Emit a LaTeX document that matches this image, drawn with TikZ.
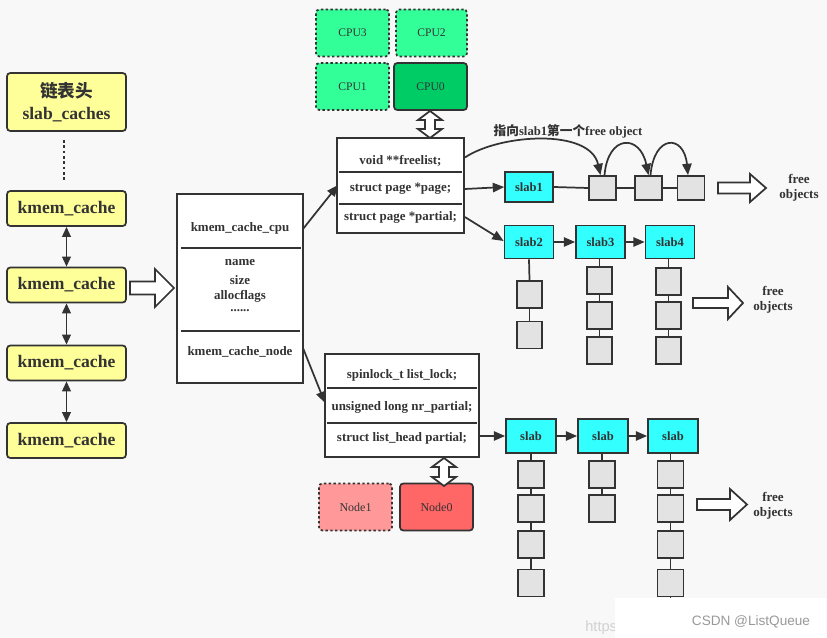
\documentclass[tikz,border=0pt]{standalone}
\usepackage{fontspec}
\setmainfont{Liberation Serif}
\newfontfamily\cjk{Noto Sans CJK SC}
\newfontfamily\wmfont{Liberation Sans}
\usetikzlibrary{arrows.meta,calc}
\definecolor{bg}{HTML}{F8F8F8}
\definecolor{ln}{HTML}{333333}
\definecolor{txt}{HTML}{333333}
\definecolor{yel}{HTML}{FFFF99}
\definecolor{cpul}{HTML}{33FF99}
\definecolor{cpud}{HTML}{00CC66}
\definecolor{cyn}{HTML}{33FFFF}
\definecolor{sqf}{HTML}{E3E3E3}
\definecolor{nodel}{HTML}{FF9999}
\definecolor{noded}{HTML}{FF6666}
\newcommand\harrowR[6]{\draw[harr] (#1,#2-#4) -- (#5,#2-#4) -- (#5,#2-#6) -- (#3,#2) -- (#5,#2+#6) -- (#5,#2+#4) -- (#1,#2+#4) -- cycle;}
\newcommand\hdarrowV[6]{\draw[harr] (#1,#2) -- (#1+#5,#2+#6) -- (#1+#4,#2+#6) -- (#1+#4,#3-#6) -- (#1+#5,#3-#6) -- (#1,#3) -- (#1-#5,#3-#6) -- (#1-#4,#3-#6) -- (#1-#4,#2+#6) -- (#1-#5,#2+#6) -- cycle;}
\begin{document}
\begin{tikzpicture}[x=0.75pt,y=-0.75pt,
  sz/.style 2 args={minimum width=#1*0.75pt, minimum height=#2*0.75pt},
  base/.style={draw=ln, line width=1.3pt, inner sep=0pt, text=txt},
  ybox/.style={base, fill=yel, rounded corners=2.5pt, sz={119}{35}, font=\bfseries\fontsize{13.2}{16.5}\selectfont},
  cpub/.style={base, rounded corners=2.5pt, sz={73}{47}, font=\fontsize{8.7}{10}\selectfont},
  dotb/.style={dash pattern=on 1.8pt off 1.8pt},
  rect/.style={base, fill=white},
  lbl/.style={inner sep=0pt, text=txt, font=\bfseries\fontsize{9.7}{12}\selectfont},
  slab/.style={base, fill=cyn, sz={49}{33}, font=\bfseries\fontsize{9.4}{11}\selectfont},
  sq/.style={base, fill=sqf, sz={26}{27}},
  divl/.style={draw=ln, line width=1.3pt},
  plain/.style={draw=ln, line width=1.3pt},
  conn/.style={draw=ln, line width=1.3pt, -{Triangle[length=8.5pt,width=7pt]}},
  dconn/.style={draw=ln, line width=1.3pt, {Triangle[length=7.5pt,width=6.5pt]}-{Triangle[length=7.5pt,width=6.5pt]}},
  harr/.style={draw=ln, fill=white, line width=1.3pt, line join=miter},
  fo/.style={inner sep=0pt, text=txt, align=center, font=\bfseries\fontsize{9.8}{11.5}\selectfont}
]
\fill[bg] (0,0) rectangle (827,638);
\useasboundingbox (0,0) rectangle (827,638);

% left column
\node[ybox, sz={119}{58}, align=center] (head) at (66.5,102) {{\cjk\bfseries 链表头}\\slab\_caches};
\node[ybox] (k1) at (66.5,208.5) {kmem\_cache};
\node[ybox] (k2) at (66.5,285) {kmem\_cache};
\node[ybox] (k3) at (66.5,363) {kmem\_cache};
\node[ybox] (k4) at (66.5,440.5) {kmem\_cache};
\coordinate (dtop) at (64,140);
\coordinate (dbot) at (64,182);
\draw[draw=ln, line width=2pt, dash pattern=on 2pt off 2pt] (dtop) -- (dbot);
\draw[dconn] (k1.south) -- (k2.north);
\draw[dconn] (k2.south) -- (k3.north);
\draw[dconn] (k3.south) -- (k4.north);
\harrowR{130}{288}{174}{6.5}{155}{19}

% middle kmem_cache box
\node[rect, sz={126}{189}] (M) at (240,288.5) {};
\draw[divl] (181,248) -- (301,248);
\draw[divl] (181,331) -- (300,331);
\node[lbl] (mcpu) at (240,228) {kmem\_cache\_cpu};
\node[lbl] (mname) at (240,263) {name};
\node[lbl] (msize) at (240,280) {size};
\node[lbl] (mflags) at (240,296) {allocflags};
\node[lbl] (mdots) at (240,311) {......};
\node[lbl] (mnode) at (240,352) {kmem\_cache\_node};

% CPUs
\node[cpub, fill=cpul, dotb] (cpu3) at (352.5,33) {CPU3};
\node[cpub, fill=cpul, dotb, sz={71}{47}] (cpu2) at (431.5,33) {CPU2};
\node[cpub, fill=cpul, dotb] (cpu1) at (352.5,86.5) {CPU1};
\node[cpub, fill=cpud] (cpu0) at (430.5,86.5) {CPU0};

% kmem_cache_cpu struct
\node[rect, sz={127}{95}] (S1) at (400.5,185.5) {};
\draw[divl] (339,172) -- (462,172);
\draw[divl] (339,204) -- (462,204);
\node[lbl] (fl) at (400.5,161) {void **freelist;};
\node[lbl] (pg) at (400.5,189) {struct page *page;};
\node[lbl] (pp) at (400.5,217) {struct page *partial;};
\hdarrowV{430}{111}{138}{5}{12}{9}

\coordinate (mcpuE) at (303,229);
\coordinate (s1in) at (338,185);
\draw[conn] (mcpuE) -- (s1in);

% slab1 row
\node[slab, sz={48}{30}] (slab1) at (529,187) {slab1};
\node[sq, sz={27}{24}] (q1) at (602.5,188) {};
\node[sq, sz={27}{24}] (q2) at (648.5,188) {};
\node[sq, sz={27}{24}] (q3) at (691,188) {};
\draw[conn] (S1.east |- pg) -- (slab1.west);
\draw[plain] (slab1.east) -- (q1.west);
\draw[plain] (q1.east) -- (q2.west);
\draw[plain] (q2.east) -- (q3.west);
\draw[conn] ($(S1.east)+(0,-28)$) .. controls (500,134) and (590,128) .. ($(q1.north)+(-2,0)$);
\draw[conn] ($(q1.north)+(2,0)$) .. controls (608,134) and (640,134) .. ($(q2.north)+(0,0)$);
\draw[conn] ($(q2.north)+(2,0)$) .. controls (654,134) and (684,134) .. ($(q3.north)+(-3,0)$);
\node[inner sep=0pt, text=txt, font=\bfseries\fontsize{9.5}{11}\selectfont] (fltxt) at (568,131.5) {{\cjk\bfseries 指向}slab1{\cjk\bfseries 第一个}free object};
\harrowR{718}{188}{766}{5.5}{750}{14}
\node[fo] (fo1) at (799,188) {free\\objects};

% partial slabs
\node[slab] (slab2) at (529,242) {slab2};
\node[slab] (slab3) at (600.5,242) {slab3};
\node[slab] (slab4) at (670,242) {slab4};
\draw[conn] ($(S1.east)+(0,31.5)$) -- ($(slab2.west)+(0,-1)$);
\draw[conn] (slab2) -- (slab3);
\draw[conn] (slab3) -- (slab4);
\node[sq, sz={25}{27}] (a1) at (529.5,294.5) {};
\node[sq, sz={25}{27}] (a2) at (529.5,335) {};
\draw[plain] (slab2.south) -- (a1.north);
\draw[plain] (a1.south) -- (a2.north);
\node[sq, sz={25}{27}] (b1) at (599.5,280.5) {};
\node[sq, sz={25}{27}] (b2) at (599.5,315.5) {};
\node[sq, sz={25}{27}] (b3) at (599.5,350.5) {};
\draw[plain] (slab3.south -| b1) -- (b1.north);
\draw[plain] (b1.south) -- (b2.north);
\draw[plain] (b2.south) -- (b3.north);
\node[sq, sz={25}{27}] (c1) at (668.5,281.5) {};
\node[sq, sz={25}{27}] (c2) at (668.5,315.5) {};
\node[sq, sz={25}{27}] (c3) at (668.5,350.5) {};
\draw[plain] (slab4.south -| c1) -- (c1.north);
\draw[plain] (c1.south) -- (c2.north);
\draw[plain] (c2.south) -- (c3.north);
\harrowR{693}{303}{743}{5}{728}{16}
\node[fo] (fo2) at (773,300) {free\\objects};

% kmem_cache_node struct
\node[rect, sz={154}{103}] (S2) at (402,405.5) {};
\draw[divl] (327,388) -- (477,388);
\draw[divl] (327,423) -- (477,423);
\node[lbl] (lk) at (402,375) {spinlock\_t list\_lock;};
\node[lbl] (nr) at (402,407) {unsigned long nr\_partial;};
\node[lbl] (lh) at (402,438) {struct list\_head partial;};
\coordinate (mnodeE) at (303,348);
\coordinate (s2in) at (325,403);
\draw[conn] (mnodeE) -- (s2in);
\node[cpub, fill=nodel, dotb, font=\fontsize{9}{10}\selectfont] (n1) at (355.5,507) {Node1};
\node[cpub, fill=noded, font=\fontsize{9}{10}\selectfont] (n0) at (436.5,507) {Node0};
\hdarrowV{444}{458}{486}{5}{12}{9}

% node slabs
\node[slab, sz={50}{34}] (sa) at (531,436) {slab};
\node[slab, sz={50}{34}] (sb) at (603,436) {slab};
\node[slab, sz={50}{34}] (sc) at (673,436) {slab};
\draw[conn] (S2.east |- sa) -- (sa.west);
\draw[conn] (sa) -- (sb);
\draw[conn] (sb) -- (sc);
\node[sq] (d1) at (531,474.5) {};
\node[sq] (d2) at (531,508.5) {};
\node[sq] (d3) at (531,544.5) {};
\node[sq] (d4) at (531,583) {};
\draw[plain] (sa.south) -- (d1.north);
\draw[plain] (d1.south) -- (d2.north);
\draw[plain] (d2.south) -- (d3.north);
\draw[plain] (d3.south) -- (d4.north);
\node[sq] (e1) at (602,474.5) {};
\node[sq] (e2) at (602,508.5) {};
\draw[plain] (sb.south -| e1) -- (e1.north);
\draw[plain] (e1.south) -- (e2.north);
\node[sq] (f1) at (670.5,474.5) {};
\node[sq] (f2) at (670.5,508.5) {};
\node[sq] (f3) at (670.5,544.5) {};
\node[sq] (f4) at (670.5,583) {};
\coordinate (f5) at (670.5,615);
\draw[plain] (sc.south -| f1) -- (f1.north);
\draw[plain] (f1.south) -- (f2.north);
\draw[plain] (f2.south) -- (f3.north);
\draw[plain] (f3.south) -- (f4.north);
\draw[plain] (f4.south) -- (f5);
\harrowR{697}{504.5}{747}{5.5}{730}{15.5}
\node[fo] (fo3) at (773,506) {free\\objects};

% watermark
\node[inner sep=0pt, text=black!18, font=\wmfont\fontsize{11}{12}\selectfont, anchor=west] (wm1) at (585,628) {https};
\fill[white] (615,598) rectangle (827,638);
\node[inner sep=0pt, text=black!40, font=\wmfont\fontsize{10.2}{12}\selectfont] (wm2) at (751,622) {CSDN @ListQueue};
\end{tikzpicture}
\end{document}
